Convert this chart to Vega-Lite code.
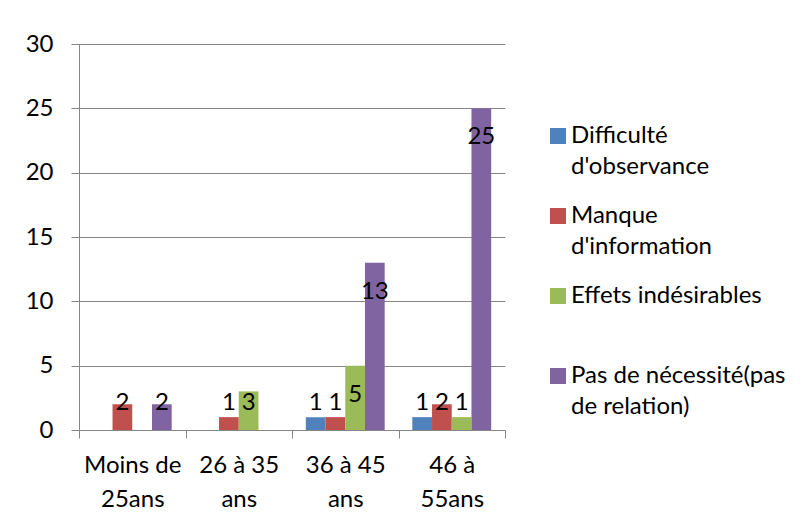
{
  "$schema": "https://vega.github.io/schema/vega-lite/v6.json",
  "width": 426,
  "height": 386,
  "autosize": {"type": "none"},
  "padding": {"left": 79, "top": 44, "right": 300, "bottom": 90},
  "background": "white",
  "config": {"view": {"stroke": null}, "font": "Lato", "style": {"guide-label": {"lineHeight": 31}}},
  "data": {
    "values": [
      {"age": "Moins de 25ans", "cause": "Difficulté d'observance", "n": 0},
      {"age": "Moins de 25ans", "cause": "Manque d'information", "n": 2},
      {"age": "Moins de 25ans", "cause": "Effets indésirables", "n": 0},
      {"age": "Moins de 25ans", "cause": "Pas de nécessité(pas de relation)", "n": 2},
      {"age": "26 à 35 ans", "cause": "Difficulté d'observance", "n": 0},
      {"age": "26 à 35 ans", "cause": "Manque d'information", "n": 1},
      {"age": "26 à 35 ans", "cause": "Effets indésirables", "n": 3},
      {"age": "26 à 35 ans", "cause": "Pas de nécessité(pas de relation)", "n": 0},
      {"age": "36 à 45 ans", "cause": "Difficulté d'observance", "n": 1},
      {"age": "36 à 45 ans", "cause": "Manque d'information", "n": 1},
      {"age": "36 à 45 ans", "cause": "Effets indésirables", "n": 5},
      {"age": "36 à 45 ans", "cause": "Pas de nécessité(pas de relation)", "n": 13},
      {"age": "46 à 55ans", "cause": "Difficulté d'observance", "n": 1},
      {"age": "46 à 55ans", "cause": "Manque d'information", "n": 2},
      {"age": "46 à 55ans", "cause": "Effets indésirables", "n": 1},
      {"age": "46 à 55ans", "cause": "Pas de nécessité(pas de relation)", "n": 25}
    ]
  },
  "encoding": {
    "x": {
      "field": "age",
      "type": "nominal",
      "sort": ["Moins de 25ans", "26 à 35 ans", "36 à 45 ans", "46 à 55ans"],
      "scale": {"paddingInner": 0, "paddingOuter": 0},
      "axis": {
        "title": null,
        "labelAngle": 0,
        "labelFontSize": 24,
        "labelColor": "black",
        "labelPadding": 15,
        "labelLineHeight": 34,
        "labelLimit": 0,
        "tickBand": "extent",
        "tickSize": 8,
        "tickColor": "#868686",
        "domainColor": "#868686",
        "labelExpr": "datum.value == 'Moins de 25ans' ? ['Moins de', '25ans'] : datum.value == '26 à 35 ans' ? ['26 à 35', 'ans'] : datum.value == '36 à 45 ans' ? ['36 à 45', 'ans'] : datum.value == '46 à 55ans' ? ['46 à', '55ans'] : ''"
      }
    },
    "xOffset": {
      "field": "cause",
      "type": "nominal",
      "sort": ["Difficulté d'observance", "Manque d'information", "Effets indésirables", "Pas de nécessité(pas de relation)"],
      "scale": {"paddingInner": 0, "paddingOuter": 0.7}
    }
  },
  "layer": [
    {
      "mark": {"type": "bar"},
      "encoding": {
        "y": {
          "field": "n",
          "type": "quantitative",
          "scale": {"domain": [0, 30]},
          "axis": {
            "title": null,
            "values": [0, 5, 10, 15, 20, 25, 30],
            "labelFontSize": 24,
            "labelColor": "black",
            "labelPadding": 18,
            "tickSize": 8,
            "tickColor": "#868686",
            "domainColor": "#868686",
            "gridColor": "#868686",
            "gridOpacity": 1
          }
        },
        "color": {
          "field": "cause",
          "type": "nominal",
          "sort": ["Difficulté d'observance", "Manque d'information", "Effets indésirables", "Pas de nécessité(pas de relation)"],
          "scale": {"range": ["#4F81BD", "#C0504D", "#9BBB59", "#8064A2"]},
          "legend": {
            "title": null,
            "orient": "none",
            "legendX": 467,
            "legendY": 80,
            "padding": 0,
            "symbolType": "square",
            "symbolSize": 256,
            "symbolStrokeWidth": 0,
            "symbolOpacity": 1,
            "labelFontSize": 24,
            "labelColor": "black",
            "labelOffset": 1,
            "labelLimit": 0,
            "labelBaseline": "middle",
            "rowPadding": 25,
            "gridAlign": "all",
            "labelExpr": "datum.value == \"Difficulté d'observance\" ? ['Difficulté', \"d'observance\"] : datum.value == \"Manque d'information\" ? ['Manque', \"d'information\"] : datum.value == 'Effets indésirables' ? ['Effets indésirables'] : ['Pas de nécessité(pas', 'de relation)']"
          }
        }
      }
    },
    {
      "transform": [{"filter": "datum.n >= 5"}],
      "mark": {"type": "text", "baseline": "middle", "dy": 29, "fontSize": 24, "color": "black"},
      "encoding": {
        "y": {"field": "n", "type": "quantitative"},
        "text": {"field": "n", "type": "quantitative"}
      }
    },
    {
      "transform": [{"filter": "datum.n > 0 && datum.n < 5"}],
      "mark": {"type": "text", "baseline": "middle", "dy": -27, "fontSize": 24, "color": "black"},
      "encoding": {
        "y": {"datum": 0, "type": "quantitative"},
        "text": {"field": "n", "type": "quantitative"}
      }
    }
  ]
}
